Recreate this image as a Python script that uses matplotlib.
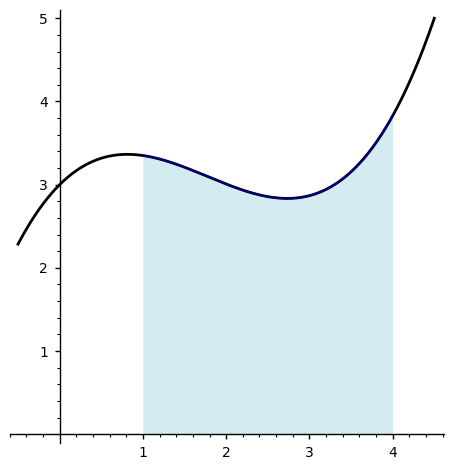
import numpy as np
import matplotlib
matplotlib.use("Agg")
import matplotlib.pyplot as plt
from matplotlib.ticker import MultipleLocator

# cubic: f(x) = a x^3 + b x^2 + c x + d
coeffs = [0.14937, -0.79459, 0.99536, 3.0]
x_range = [-0.5, 4.5]      # plotted domain of the curve
fill_range = [1.0, 4.0]    # shaded region under the curve
x_ticks = [1, 2, 3, 4]
y_ticks = [1, 2, 3, 4, 5]

fig = plt.figure(figsize=(4.53, 4.68), dpi=100)
ax = fig.add_axes([0.0214, 0.0543, 0.9594, 0.9245])

xs = np.linspace(x_range[0], x_range[1], 400)
ys = np.polyval(coeffs, xs)
xf = np.linspace(fill_range[0], fill_range[1], 300)
yf = np.polyval(coeffs, xf)

ax.fill_between(xf, 0, yf, color="#add8e6", alpha=0.5, linewidth=0, zorder=1)
ax.plot(xs, ys, color="black", lw=2.0, zorder=3)
ax.plot(xf, yf, color="navy", lw=1.4, zorder=4)

ax.set_xlim(-0.6, 4.62)
ax.set_ylim(-0.1, 5.1)

# sage style axes crossing at the origin
for s in ["top", "right"]:
    ax.spines[s].set_visible(False)
ax.spines["left"].set_position(("data", 0))
ax.spines["bottom"].set_position(("data", 0))
ax.spines["left"].set_linewidth(1.0)
ax.spines["bottom"].set_linewidth(1.0)

ax.set_xticks(x_ticks)
ax.set_yticks(y_ticks)
ax.xaxis.set_minor_locator(MultipleLocator(0.2))
ax.yaxis.set_minor_locator(MultipleLocator(0.2))
ax.tick_params(which="major", direction="out", length=3.5, width=1.0, labelsize=10, pad=5)
ax.tick_params(which="minor", direction="out", length=2.0, width=0.8)

fig.savefig("out.png", dpi=100)
